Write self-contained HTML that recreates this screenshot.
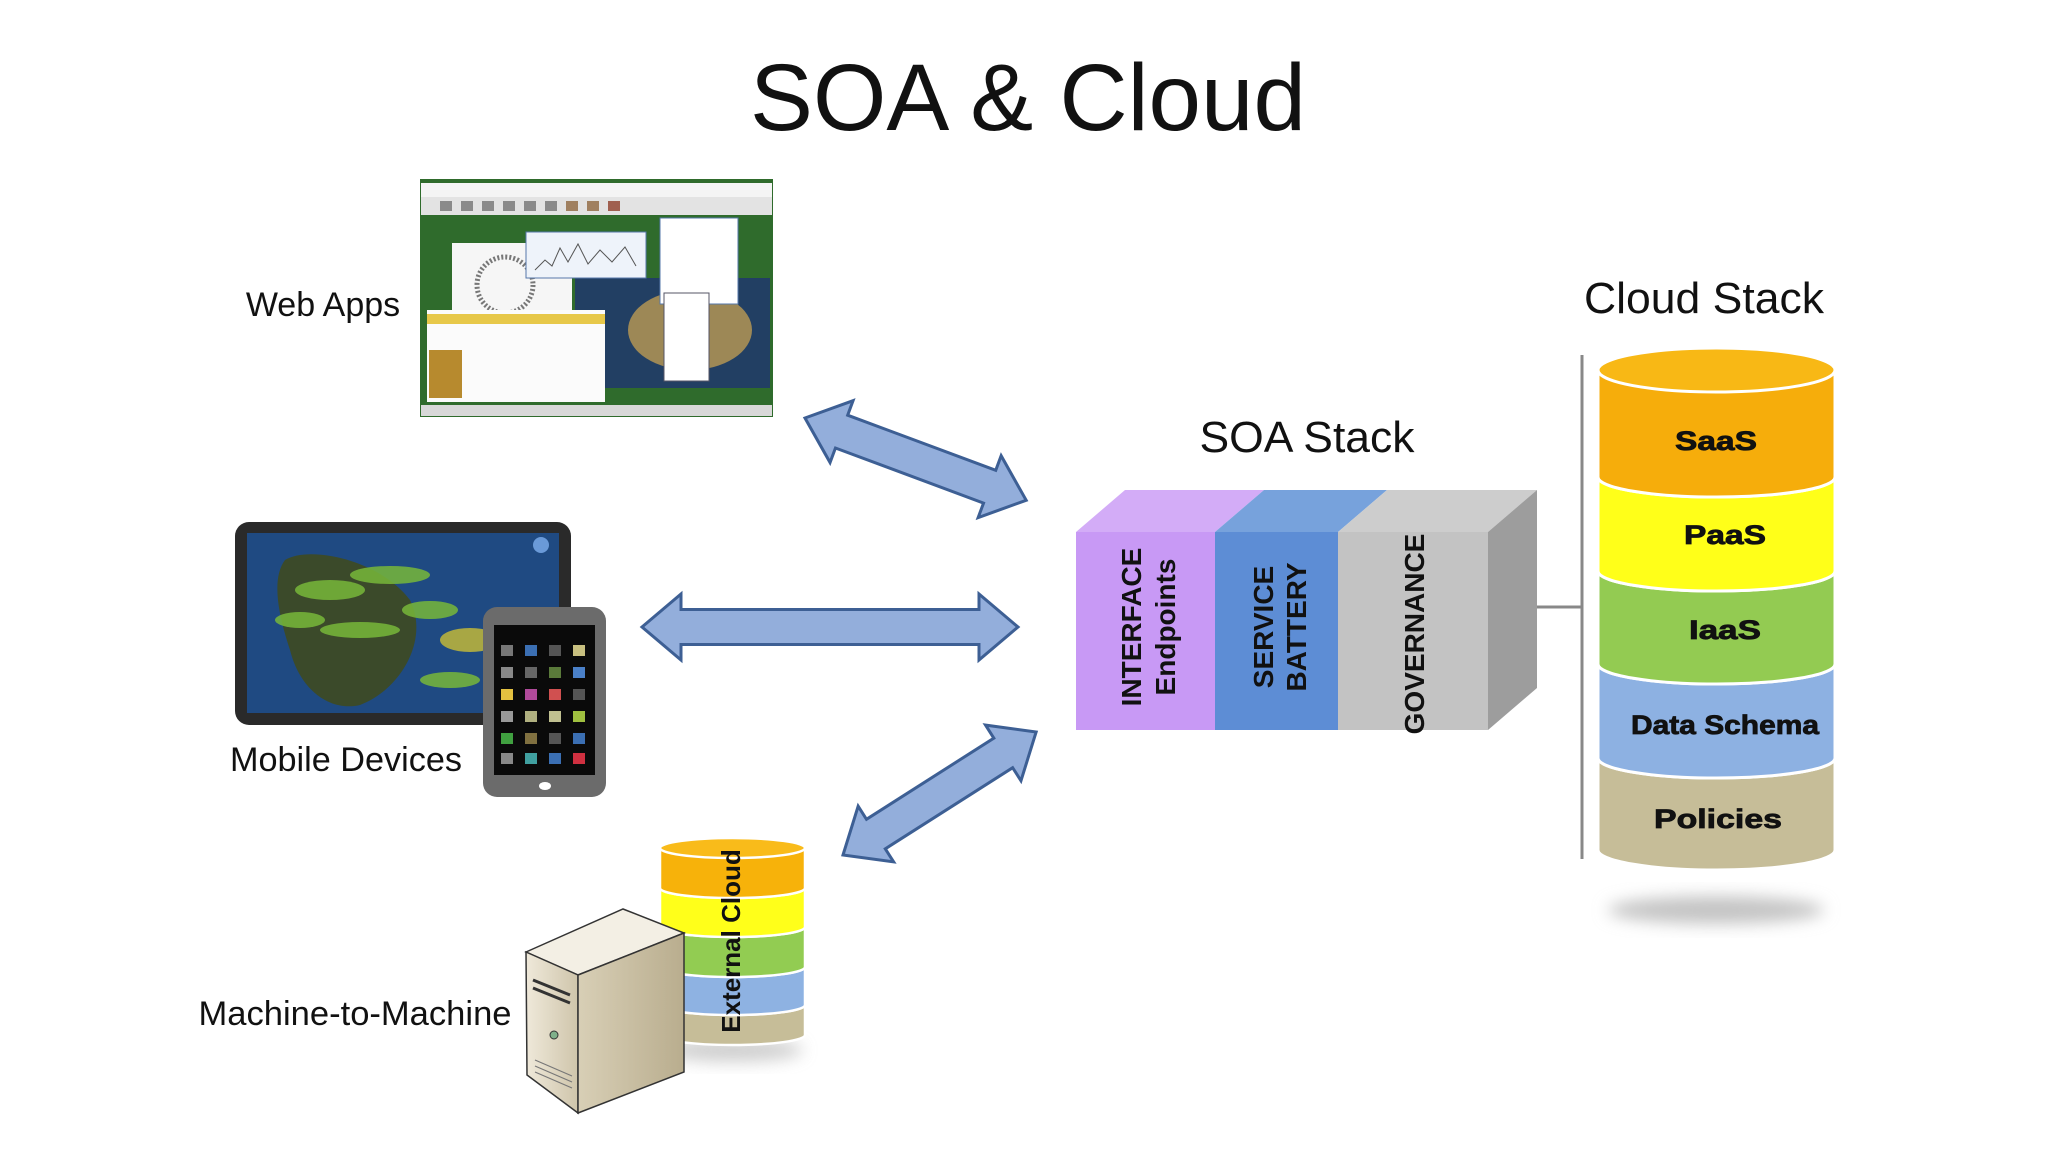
<!DOCTYPE html>
<html><head><meta charset="utf-8"><style>
html,body{margin:0;padding:0;background:#fff;}
svg{display:block;}
text{font-family:"Liberation Sans",Arial,sans-serif;}
</style></head><body>
<svg width="2048" height="1152" viewBox="0 0 2048 1152" xmlns="http://www.w3.org/2000/svg">
<defs>
<filter id="blur" x="-50%" y="-50%" width="200%" height="200%"><feGaussianBlur stdDeviation="8"/></filter>
<linearGradient id="srvF" x1="0" x2="1"><stop offset="0" stop-color="#efe9da"/><stop offset="1" stop-color="#cfc5ab"/></linearGradient>
<linearGradient id="srvS" x1="0" x2="1"><stop offset="0" stop-color="#d8cfb6"/><stop offset="1" stop-color="#b9ad8e"/></linearGradient>
</defs>
<rect width="2048" height="1152" fill="#fff"/>

<text x="1028" y="130" font-size="95" text-anchor="middle" fill="#111" textLength="556" lengthAdjust="spacingAndGlyphs">SOA &amp; Cloud</text>

<g>
<rect x="420" y="179" width="353" height="238" fill="#2f6b2c"/>
<rect x="421" y="183" width="351" height="14" fill="#f4f4f4"/>
<rect x="421" y="197" width="351" height="18" fill="#e3e3e3"/>
<g fill="#8a8a8a"><rect x="440" y="201" width="12" height="10"/><rect x="461" y="201" width="12" height="10"/><rect x="482" y="201" width="12" height="10"/><rect x="503" y="201" width="12" height="10"/><rect x="524" y="201" width="12" height="10"/><rect x="545" y="201" width="12" height="10"/><rect x="566" y="201" width="12" height="10" fill="#a08060"/><rect x="587" y="201" width="12" height="10" fill="#a08060"/><rect x="608" y="201" width="12" height="10" fill="#a06050"/></g>
<rect x="575" y="278" width="195" height="110" fill="#223f63"/>
<ellipse cx="690" cy="330" rx="62" ry="40" fill="#9d8856"/>
<rect x="452" y="243" width="120" height="75" fill="#f6f6f6"/>
<circle cx="505" cy="285" r="28" fill="none" stroke="#777" stroke-width="5" stroke-dasharray="2 2"/>
<rect x="526" y="232" width="120" height="46" fill="#eef3fa" stroke="#5577aa"/>
<path d="M535 270 L545 260 L552 266 L560 248 L568 262 L578 244 L588 264 L600 250 L612 262 L625 247 L636 266" stroke="#555" fill="none"/>
<rect x="660" y="218" width="78" height="86" fill="#fff" stroke="#5577aa"/>
<rect x="664" y="293" width="45" height="88" fill="#fff" stroke="#556"/>
<rect x="427" y="310" width="178" height="92" fill="#fbfbfb"/>
<rect x="427" y="314" width="178" height="10" fill="#e7c84a"/>
<rect x="429" y="350" width="33" height="48" fill="#b78a2e"/>
<rect x="421" y="405" width="351" height="11" fill="#d8d8d8"/>
</g>
<text x="323" y="316" font-size="34" text-anchor="middle" fill="#111">Web Apps</text>

<rect x="235" y="522" width="336" height="203" rx="14" fill="#2a2a2a"/>
<rect x="247" y="533" width="312" height="180" fill="#1f4a82"/>
<path d="M285 560 C310 545 380 560 410 600 C430 640 400 690 360 705 C330 712 300 690 290 650 C280 620 270 580 285 560 Z" fill="#3b4a2a"/>
<g fill="#78b83a" opacity="0.85"><ellipse cx="330" cy="590" rx="35" ry="10"/><ellipse cx="390" cy="575" rx="40" ry="9"/><ellipse cx="430" cy="610" rx="28" ry="9"/><ellipse cx="360" cy="630" rx="40" ry="8"/><ellipse cx="470" cy="640" rx="30" ry="12" fill="#c0b83a"/><ellipse cx="300" cy="620" rx="25" ry="8"/><ellipse cx="450" cy="680" rx="30" ry="8"/></g>
<circle cx="541" cy="545" r="8" fill="#6a9ad8"/>
<rect x="483" y="607" width="123" height="190" rx="14" fill="#6b6b6b"/>
<rect x="494" y="625" width="101" height="150" fill="#0a0a0a"/>
<g>
<rect x="501" y="645" width="12" height="11" fill="#777"/><rect x="525" y="645" width="12" height="11" fill="#3b6fb3"/><rect x="549" y="645" width="12" height="11" fill="#555"/><rect x="573" y="645" width="12" height="11" fill="#c8c080"/>
<rect x="501" y="667" width="12" height="11" fill="#888"/><rect x="525" y="667" width="12" height="11" fill="#666"/><rect x="549" y="667" width="12" height="11" fill="#5a7a3a"/><rect x="573" y="667" width="12" height="11" fill="#4a80c8"/>
<rect x="501" y="689" width="12" height="11" fill="#e3c040"/><rect x="525" y="689" width="12" height="11" fill="#b04a9a"/><rect x="549" y="689" width="12" height="11" fill="#d05050"/><rect x="573" y="689" width="12" height="11" fill="#555"/>
<rect x="501" y="711" width="12" height="11" fill="#999"/><rect x="525" y="711" width="12" height="11" fill="#b0b080"/><rect x="549" y="711" width="12" height="11" fill="#c0c090"/><rect x="573" y="711" width="12" height="11" fill="#a0c040"/>
<rect x="501" y="733" width="12" height="11" fill="#40a040"/><rect x="525" y="733" width="12" height="11" fill="#807040"/><rect x="549" y="733" width="12" height="11" fill="#555"/><rect x="573" y="733" width="12" height="11" fill="#3b6fb3"/>
<rect x="501" y="753" width="12" height="11" fill="#888"/><rect x="525" y="753" width="12" height="11" fill="#40a0a0"/><rect x="549" y="753" width="12" height="11" fill="#3b6fb3"/><rect x="573" y="753" width="12" height="11" fill="#d03040"/>
</g>
<ellipse cx="545" cy="786" rx="6" ry="4" fill="#fff"/>
<text x="346" y="771" font-size="34" text-anchor="middle" fill="#111" textLength="232" lengthAdjust="spacingAndGlyphs">Mobile Devices</text>

<ellipse cx="733" cy="1050" rx="70" ry="12" fill="#bbb" filter="url(#blur)" opacity="0.7"/>
<g stroke="#fff" stroke-width="2.5">
<path d="M660 1005 L660 1035 A72.5 10 0 0 0 805 1035 L805 1005 A72.5 10 0 0 1 660 1005 Z" fill="#c6bd98"/>
<path d="M660 967 L660 1005 A72.5 10 0 0 0 805 1005 L805 967 A72.5 10 0 0 1 660 967 Z" fill="#8eb2e2"/>
<path d="M660 927 L660 967 A72.5 10 0 0 0 805 967 L805 927 A72.5 10 0 0 1 660 927 Z" fill="#92cc52"/>
<path d="M660 888 L660 927 A72.5 10 0 0 0 805 927 L805 888 A72.5 10 0 0 1 660 888 Z" fill="#ffff1a"/>
<path d="M660 848 L660 888 A72.5 10 0 0 0 805 888 L805 848 Z" fill="#f7b20a"/>
<ellipse cx="732.5" cy="848" rx="72.5" ry="10" fill="#f9bb1a"/>
</g>
<text transform="translate(740,941) rotate(-90)" font-size="26" font-weight="bold" text-anchor="middle" fill="#111">External Cloud</text>

<polygon points="526,952 623,909 684,933 578,975" fill="#f3efe4" stroke="#333" stroke-width="1.5"/>
<polygon points="526,952 578,975 578,1113 527,1075" fill="url(#srvF)" stroke="#333" stroke-width="1.5"/>
<polygon points="578,975 684,933 684,1072 578,1113" fill="url(#srvS)" stroke="#333" stroke-width="1.5"/>
<path d="M533 980 L570 995 M533 988 L570 1003" stroke="#333" stroke-width="3"/>
<circle cx="554" cy="1035" r="4" fill="#7fb08a" stroke="#333"/>
<path d="M535 1060 L572 1076 M535 1066 L572 1082 M535 1072 L572 1088" stroke="#777" stroke-width="1.2"/>
<text x="355" y="1025" font-size="34" text-anchor="middle" fill="#111" textLength="313" lengthAdjust="spacingAndGlyphs">Machine-to-Machine</text>

<g fill="#93aedb" stroke="#3d5f94" stroke-width="3" stroke-linejoin="miter">
<path transform="translate(805,418) rotate(20.4)" d="M0 0 L39 -33 L39 -17.5 L197 -17.5 L197 -33 L236 0 L197 33 L197 17.5 L39 17.5 L39 33 Z"/>
<path transform="translate(642,627)" d="M0 0 L39 -33 L39 -17.5 L337 -17.5 L337 -33 L376 0 L337 33 L337 17.5 L39 17.5 L39 33 Z"/>
<path transform="translate(843,855) rotate(-32.5)" d="M0 0 L39 -33 L39 -17.5 L190 -17.5 L190 -33 L229 0 L190 33 L190 17.5 L39 17.5 L39 33 Z"/>
</g>

<text x="1307" y="452" font-size="44" text-anchor="middle" fill="#111" textLength="215" lengthAdjust="spacingAndGlyphs">SOA Stack</text>
<polygon points="1076,532 1125,490 1264,490 1215,532" fill="#d3acf7"/>
<polygon points="1215,532 1264,490 1387,490 1338,532" fill="#77a2dc"/>
<polygon points="1338,532 1387,490 1537,490 1488,532" fill="#cdcdcd"/>
<polygon points="1488,532 1537,490 1537,688 1488,730" fill="#9d9d9d"/>
<rect x="1076" y="532" width="139" height="198" fill="#c899f5"/>
<rect x="1215" y="532" width="123" height="198" fill="#5d8dd5"/>
<rect x="1338" y="532" width="150" height="198" fill="#c3c3c3"/>
<g font-size="28" font-weight="bold" fill="#111" text-anchor="middle">
<text transform="translate(1141,627) rotate(-90)">INTERFACE</text>
<text transform="translate(1175,627) rotate(-90)">Endpoints</text>
<text transform="translate(1273,627) rotate(-90)">SERVICE</text>
<text transform="translate(1306,627) rotate(-90)">BATTERY</text>
<text transform="translate(1424,634) rotate(-90)">GOVERNANCE</text>
</g>

<line x1="1537" y1="607" x2="1582" y2="607" stroke="#888" stroke-width="3"/>
<line x1="1582" y1="355" x2="1582" y2="859" stroke="#888" stroke-width="3"/>

<text x="1704" y="313" font-size="44" text-anchor="middle" fill="#111" textLength="240" lengthAdjust="spacingAndGlyphs">Cloud Stack</text>
<ellipse cx="1716" cy="910" rx="108" ry="14" fill="#c4c4c4" filter="url(#blur)"/>
<g stroke="#fff" stroke-width="3">
<path d="M1598 758 L1598 850 A118.5 20 0 0 0 1835 850 L1835 758 A118.5 20 0 0 1 1598 758 Z" fill="#c6bd98"/>
<path d="M1598 664 L1598 758 A118.5 20 0 0 0 1835 758 L1835 664 A118.5 20 0 0 1 1598 664 Z" fill="#8db1e2"/>
<path d="M1598 571 L1598 664 A118.5 20 0 0 0 1835 664 L1835 571 A118.5 20 0 0 1 1598 571 Z" fill="#93cb52"/>
<path d="M1598 477 L1598 571 A118.5 20 0 0 0 1835 571 L1835 477 A118.5 20 0 0 1 1598 477 Z" fill="#ffff19"/>
<path d="M1598 370 L1598 477 A118.5 20 0 0 0 1835 477 L1835 370 Z" fill="#f6ad0b"/>
<ellipse cx="1716.5" cy="370" rx="118.5" ry="22" fill="#f8b815"/>
</g>
<g font-size="27" font-weight="bold" fill="#111" text-anchor="middle" stroke="#111" stroke-width="0.8">
<text x="1716" y="450" textLength="82" lengthAdjust="spacingAndGlyphs">SaaS</text>
<text x="1725" y="544" textLength="82" lengthAdjust="spacingAndGlyphs">PaaS</text>
<text x="1725" y="639" textLength="72" lengthAdjust="spacingAndGlyphs">IaaS</text>
<text x="1725" y="734" textLength="188" lengthAdjust="spacingAndGlyphs">Data Schema</text>
<text x="1718" y="828" textLength="128" lengthAdjust="spacingAndGlyphs">Policies</text>
</g>
</svg>
</body></html>
